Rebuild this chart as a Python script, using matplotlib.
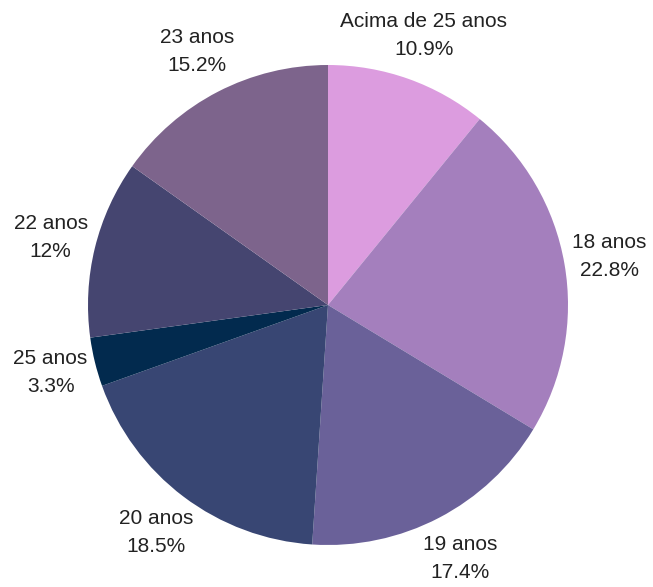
import matplotlib
matplotlib.use('Agg')
import matplotlib.pyplot as plt

# fatias no sentido horario a partir do topo
labels = ["Acima de 25 anos", "18 anos", "19 anos", "20 anos", "25 anos", "22 anos", "23 anos"]
percents = [10.9, 22.8, 17.4, 18.5, 3.3, 12.0, 15.2]
colors = ["#dc9cdf", "#a47fbd", "#6a6199", "#384673", "#022a4e", "#454570", "#7d648c"]


def fmt_pct(v):
    s = f"{v:.1f}"
    if s.endswith(".0"):
        s = s[:-2]
    return s + "%"


fig = plt.figure(figsize=(6.53, 5.87), dpi=100)
ax = fig.add_axes([0, 0, 1, 1])

texts_in = [f"{l}\n{fmt_pct(p)}" for l, p in zip(labels, percents)]
wedges, texts = ax.pie(percents, labels=texts_in, colors=colors, startangle=90,
                       counterclock=False, center=(328, 282), radius=240,
                       labeldistance=1.19, frame=True,
                       wedgeprops={'linewidth': 0},
                       textprops={'ha': 'center', 'va': 'center',
                                  'fontsize': 15, 'color': '#222222',
                                  'family': 'Liberation Sans',
                                  'linespacing': 1.6})
ax.set_xlim(0, 653)
ax.set_ylim(0, 587)
ax.set_aspect('equal')
ax.axis('off')

fig.savefig("out.png", dpi=100)
